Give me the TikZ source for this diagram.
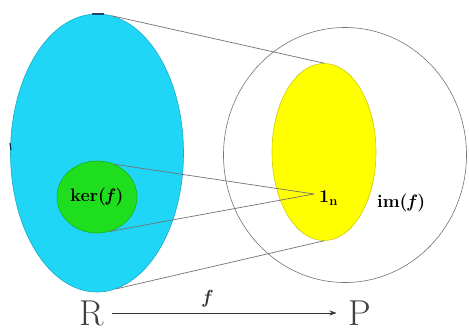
\documentclass[tikz,border=0pt]{standalone}
\usetikzlibrary{shapes.geometric,arrows.meta}
\definecolor{skyc}{RGB}{32,214,246}
\definecolor{kerc}{RGB}{30,222,30}
\definecolor{imc}{RGB}{255,255,0}
\definecolor{linec}{RGB}{115,115,115}
\definecolor{markc}{RGB}{30,70,110}
\tikzset{
  blob/.style={ellipse,inner sep=0pt,draw=#1!80!black,line width=0.6pt},
  conn/.style={draw=linec,line width=0.7pt},
  lbl/.style={inner sep=0pt,font=\bfseries\fontsize{18}{18}\selectfont},
  big/.style={inner sep=0pt,font=\fontsize{36}{36}\selectfont,text=black!75}
}
\begin{document}
\begin{tikzpicture}[x=1pt,y=-1pt]
\useasboundingbox (0,0) rectangle (469,333);
\fill[white] (0,0) rectangle (469,333);
% domain
\node[blob=skyc,fill=skyc,minimum width=173pt,minimum height=278pt] (dom) at (97,153) {};
\node[blob=kerc,fill=kerc,minimum width=80pt,minimum height=72pt] (ker) at (97,197) {};
\node[lbl] at (ker.center) {ker(\textit{f\/})};
% codomain
\node[ellipse,draw=linec,line width=0.6pt,inner sep=0pt,minimum width=243pt,minimum height=255pt] (cod) at (345,155) {};
\node[blob=imc,fill=imc,minimum width=104pt,minimum height=177pt] (im) at (324,152) {};
\coordinate (one) at (314,194);
\node[lbl,anchor=west] (onelbl) at (319,198) {1\textsubscript{\fontsize{13}{13}\selectfont n}};
\node[lbl,anchor=west] (imlbl) at (377,203) {im(\textit{f\/})};
% connectors
\draw[conn] (dom.84) -- (im.north);
\draw[conn] (dom.-82) -- (im.south);
\draw[conn] (ker.62) -- (one);
\draw[conn] (ker.-70) -- (one);
% small marks
\draw[markc,line width=1.8pt] (dom.north) ++(-5,0.5) -- ++(12,0);
\draw[markc!60!black,line width=1.2pt] (10,143) -- (11,150);
% map
\node[big] (R) at (92,313) {R};
\node[big] (P) at (360,313) {P};
\draw[-{Stealth[length=7pt,width=5pt]},line width=0.6pt,black!80] (R.east) ++(8,0) coordinate (rs) (rs) -- ([xshift=-12pt]P.west) coordinate (pe)
  node[pos=0.42,above=2pt,font=\bfseries\itshape\fontsize{19}{19}\selectfont] (flbl) {f};
\end{tikzpicture}
\end{document}
